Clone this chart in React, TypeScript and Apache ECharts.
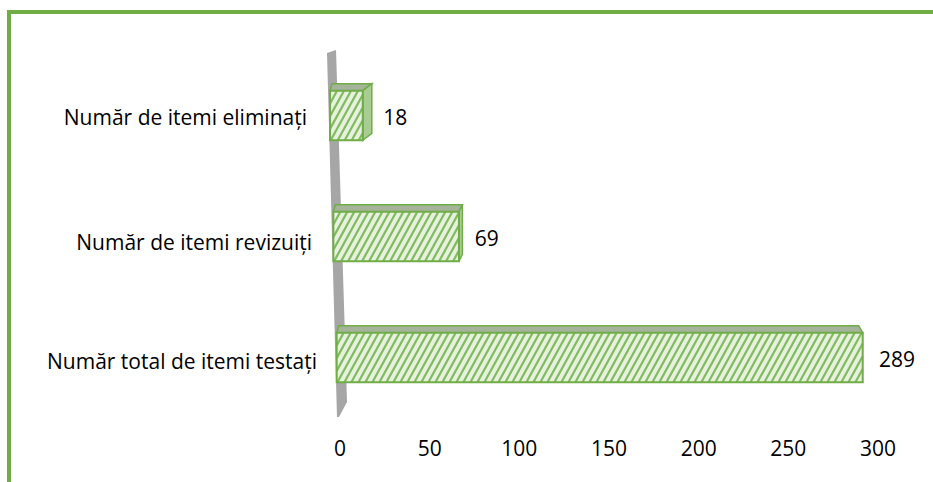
import React, { useEffect, useRef } from "react";
import * as echarts from "echarts";

const categories = [
  "Număr total de itemi testați",
  "Număr de itemi revizuiți",
  "Număr de itemi eliminați",
];
const values = [289, 69, 18];
const xTicks = { min: 0, max: 300, interval: 50 };

const GREEN = "#70AD47";
const FONT = "'Open Sans', sans-serif";

export default function App() {
  const ref = useRef<HTMLDivElement>(null);
  useEffect(() => {
    if (!ref.current) return;
    const chart = echarts.init(ref.current, undefined, { renderer: "svg" });
    const data = values.map((v, i) => [v, i]);
    const option: any = {
      animation: false,
      backgroundColor: "#ffffff",
      grid: { left: 340, right: 55, top: 55, bottom: 64, containLabel: false },
      xAxis: {
        type: "value",
        min: xTicks.min,
        max: xTicks.max,
        interval: xTicks.interval,
        axisLine: { show: false },
        axisTick: { show: false },
        splitLine: { show: false },
        axisLabel: { color: "#000", fontSize: 21, fontFamily: FONT, margin: 19 },
      },
      yAxis: {
        type: "category",
        data: categories,
        axisLine: { show: false },
        axisTick: { show: false },
        axisLabel: {
          color: "#000",
          fontSize: 21,
          fontFamily: FONT,
          margin: 23,
          formatter: (v: string, i: number) => `{a${i}|${v}}`,
          rich: {
            a0: { fontSize: 21, fontFamily: FONT, color: "#000", padding: [6, 0, 0, 0] },
            a1: { fontSize: 21, fontFamily: FONT, color: "#000", padding: [10, 5, 0, 0] },
            a2: { fontSize: 21, fontFamily: FONT, color: "#000", padding: [3, 10, 0, 0] },
          },
        },
      },
      series: [
        {
          type: "custom",
          encode: { x: 0, y: 1 },
          data,
          z: 5,
          renderItem: (params: any, api: any) => {
            const val = api.value(0);
            const idx = api.value(1);
            const zero = api.coord([0, idx]);
            const end = api.coord([val, idx]);
            const band = api.size([0, 1])[1];
            const h = band * 0.41;
            const cy = zero[1];
            const shift = -11.7 + (cy - 53) * 0.0275;
            const rawLen = end[0] - zero[0];
            const x1 = zero[0] + shift;
            const x2 = end[0] + shift + 0.015 * rawLen;
            const y1 = cy - h / 2;
            const y2 = cy + h / 2;
            const len = x2 - x1;
            const dy = 7;
            const sideDx = Math.max(-4, 11 - 0.06 * len);
            const children: any[] = [];
            // top face
            children.push({
              type: "polygon",
              shape: {
                points: [
                  [x1, y1],
                  [x1 + 2, y1 - dy],
                  [x2 + sideDx, y1 - dy],
                  [x2, y1],
                ],
              },
              style: { fill: "#A5B39B", stroke: GREEN, lineWidth: 1.5 },
            });
            if (sideDx > 0) {
              children.push({
                type: "polygon",
                shape: {
                  points: [
                    [x2, y1],
                    [x2 + sideDx, y1 - dy],
                    [x2 + sideDx, y2 - dy],
                    [x2, y2],
                  ],
                },
                style: { fill: "#A9CC92", stroke: GREEN, lineWidth: 1.5 },
              });
            }
            // front face
            children.push({
              type: "rect",
              shape: { x: x1, y: y1, width: len, height: h },
              style: { fill: "#E6F2DE", stroke: "none" },
            });
            // stripes
            const k = 0.55;
            const hk = h * k;
            for (let sx = x1 - hk; sx < x2; sx += 7) {
              const t0 = Math.max(0, (x1 - sx) / hk);
              const t1 = Math.min(1, (x2 - sx) / hk);
              if (t1 <= t0) continue;
              children.push({
                type: "line",
                shape: {
                  x1: sx + t0 * hk,
                  y1: y2 - t0 * h,
                  x2: sx + t1 * hk,
                  y2: y2 - t1 * h,
                },
                style: { stroke: "#82BA60", lineWidth: 2.2 },
              });
            }
            children.push({
              type: "rect",
              shape: { x: x1, y: y1, width: len, height: h },
              style: { fill: "none", stroke: GREEN, lineWidth: 2 },
            });
            children.push({
              type: "text",
              style: {
                text: String(val),
                x: x2 + Math.max(sideDx, 0) + 11 + 0.01 * len,
                y: cy + 1,
                align: "left",
                verticalAlign: "middle",
                fill: "#000",
                fontSize: 21,
                fontFamily: FONT,
              },
            });
            return { type: "group", children };
          },
        },
      ],
    };
    chart.setOption(option);
    const x0 = chart.convertToPixel({ xAxisIndex: 0 }, 0) as number;
    chart.setOption({
      graphic: [
        {
          type: "polygon",
          z: 1,
          shape: {
            points: [
              [x0 - 13, 53],
              [x0 - 4, 50],
              [x0 + 7, 402],
              [x0 - 1, 417],
              [x0 - 3, 417],
            ],
          },
          style: { fill: "#A6A6A6" },
        },
        {
          type: "rect",
          z: 100,
          shape: { x: 9, y: 12, width: 1000, height: 1000 },
          style: { fill: "none", stroke: GREEN, lineWidth: 4 },
        },
      ],
    });
    return () => chart.dispose();
  }, []);
  return (
    <div
      ref={ref}
      style={{ position: "fixed", left: 0, top: 0, width: 933, height: 482, background: "#fff" }}
    />
  );
}
